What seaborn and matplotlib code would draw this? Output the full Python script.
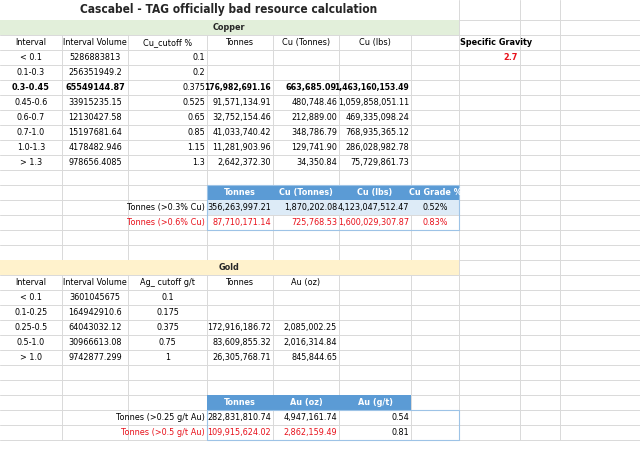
import matplotlib
matplotlib.use('Agg')
import matplotlib.pyplot as plt
import seaborn as sns

sns.set_style('white')
plt.rcParams['font.family'] = ['DejaVu Sans']
plt.rcParams['font.stretch'] = 'condensed'

title = 'Cascabel - TAG officially bad resource calculation'

cu_headers = ['Interval', 'Interval Volume', 'Cu_cutoff %', 'Tonnes', 'Cu (Tonnes)', 'Cu (lbs)']
cu_interval = ['< 0.1', '0.1-0.3', '0.3-0.45', '0.45-0.6', '0.6-0.7', '0.7-1.0', '1.0-1.3', '> 1.3']
cu_volume = ['5286883813', '256351949.2', '65549144.87', '33915235.15', '12130427.58',
             '15197681.64', '4178482.946', '978656.4085']
cu_cutoff = ['0.1', '0.2', '0.375', '0.525', '0.65', '0.85', '1.15', '1.3']
cu_tonnes = ['', '', '176,982,691.16', '91,571,134.91', '32,752,154.46', '41,033,740.42',
             '11,281,903.96', '2,642,372.30']
cu_cu_t = ['', '', '663,685.09', '480,748.46', '212,889.00', '348,786.79', '129,741.90', '34,350.84']
cu_lbs = ['', '', '1,463,160,153.49', '1,059,858,051.11', '469,335,098.24', '768,935,365.12',
          '286,028,982.78', '75,729,861.73']

cu_sum_headers = ['Tonnes', 'Cu (Tonnes)', 'Cu (lbs)', 'Cu Grade %']
cu_sum_labels = ['Tonnes (>0.3% Cu)', 'Tonnes (>0.6% Cu)']
cu_sum_rows = [['356,263,997.21', '1,870,202.08', '4,123,047,512.47', '0.52%'],
               ['87,710,171.14', '725,768.53', '1,600,029,307.87', '0.83%']]

au_headers = ['Interval', 'Interval Volume', 'Ag_ cutoff g/t', 'Tonnes', 'Au (oz)']
au_interval = ['< 0.1', '0.1-0.25', '0.25-0.5', '0.5-1.0', '> 1.0']
au_volume = ['3601045675', '164942910.6', '64043032.12', '30966613.08', '9742877.299']
au_cutoff = ['0.1', '0.175', '0.375', '0.75', '1']
au_tonnes = ['', '', '172,916,186.72', '83,609,855.32', '26,305,768.71']
au_oz = ['', '', '2,085,002.25', '2,016,314.84', '845,844.65']

au_sum_headers = ['Tonnes', 'Au (oz)', 'Au (g/t)']
au_sum_labels = ['Tonnes (>0.25 g/t Au)', 'Tonnes (>0.5 g/t Au)']
au_sum_rows = [['282,831,810.74', '4,947,161.74', '0.54'],
               ['109,915,624.02', '2,862,159.49', '0.81']]

cols = [0, 62, 128, 207, 273, 339, 411, 459, 520, 560, 640]
RED = '#E8101A'
FS = 6.5


def top(r):
    return 0 if r == 0 else 20 + 15 * (r - 1)


def cy(r):
    return top(r) + 7.5


fig = plt.figure(figsize=(6.4, 4.5), dpi=100)
ax = fig.add_axes([0, 0, 1, 1])
ax.set_xlim(0, 640)
ax.set_ylim(450, 0)
ax.axis('off')

# grid
for r in range(1, 30):
    ax.plot([0, 640], [top(r), top(r)], color='#D9D9D9', lw=0.7, zorder=1)
merged = {0, 1, 17}
for r in range(0, 29):
    for x in cols[1:-1]:
        if r in merged and x < 459:
            continue
        ax.plot([x, x], [top(r), top(r + 1)], color='#D9D9D9', lw=0.7, zorder=1)


def fill(x0, x1, r, color):
    ax.fill_between([x0, x1], top(r), top(r + 1), color=color, zorder=2, lw=0)


def txt(s, c, r, align='center', color='black', bold=False, size=FS):
    x0, x1 = cols[c], cols[c + 1]
    x = {'center': (x0 + x1) / 2, 'right': x1 - 2, 'left': x0 + 1}[align]
    ax.text(x, cy(r), s, ha=align, va='center', color=color, fontsize=size,
            fontweight='bold' if bold else 'normal', zorder=5)


ax.text(229, 10, title, ha='center', va='center', fontsize=8.6, fontweight='bold', zorder=5)

# copper block
fill(0, 459, 1, '#E2EFDA')
ax.text(229, cy(1), 'Copper', ha='center', va='center', fontsize=FS, fontweight='bold', zorder=5)
for i, h in enumerate(cu_headers):
    txt(h, i, 2)
txt('Specific Gravity', 7, 2, align='left', bold=True)
txt('2.7', 7, 3, align='right', color=RED, bold=True)
for k in range(len(cu_interval)):
    r = 3 + k
    b = k == 2
    txt(cu_interval[k], 0, r, bold=b)
    txt(cu_volume[k], 1, r, bold=b)
    txt(cu_cutoff[k], 2, r, align='right')
    txt(cu_tonnes[k], 3, r, align='right', bold=b, size=FS - 0.4 if b else FS)
    txt(cu_cu_t[k], 4, r, align='right', bold=b)
    txt(cu_lbs[k], 5, r, align='right', bold=b, size=FS - 0.4 if b else FS)

fill(207, 459, 12, '#5B9BD5')
fill(207, 459, 13, '#DDEBF7')
for i, h in enumerate(cu_sum_headers):
    txt(h, 3 + i, 12, color='white', bold=True)
for j, (lab, row) in enumerate(zip(cu_sum_labels, cu_sum_rows)):
    col = 'black' if j == 0 else RED
    txt(lab, 2, 13 + j, align='right', color=col)
    for i, v in enumerate(row):
        txt(v, 3 + i, 13 + j, align='center' if i == 3 else 'right', color=col)
ax.plot([207, 459, 459, 207, 207], [top(12), top(12), top(15), top(15), top(12)],
        color='#9DC3E6', lw=0.8, zorder=3)

# gold block
fill(0, 459, 17, '#FFF2CC')
ax.text(229, cy(17), 'Gold', ha='center', va='center', fontsize=FS, fontweight='bold', zorder=5)
for i, h in enumerate(au_headers):
    txt(h, i, 18)
for k in range(len(au_interval)):
    r = 19 + k
    txt(au_interval[k], 0, r)
    txt(au_volume[k], 1, r)
    txt(au_cutoff[k], 2, r)
    txt(au_tonnes[k], 3, r, align='right')
    txt(au_oz[k], 4, r, align='right')

fill(207, 411, 26, '#5B9BD5')
for i, h in enumerate(au_sum_headers):
    txt(h, 3 + i, 26, color='white', bold=True)
for j, (lab, row) in enumerate(zip(au_sum_labels, au_sum_rows)):
    col = 'black' if j == 0 else RED
    txt(lab, 2, 27 + j, align='right', color=col)
    for i, v in enumerate(row):
        txt(v, 3 + i, 27 + j, align='right', color=col if i < 2 else 'black')
ax.plot([207, 459, 459, 207, 207], [top(27), top(27), top(29), top(29), top(27)],
        color='#9DC3E6', lw=0.8, zorder=3)

fig.savefig('out.png', dpi=100)
